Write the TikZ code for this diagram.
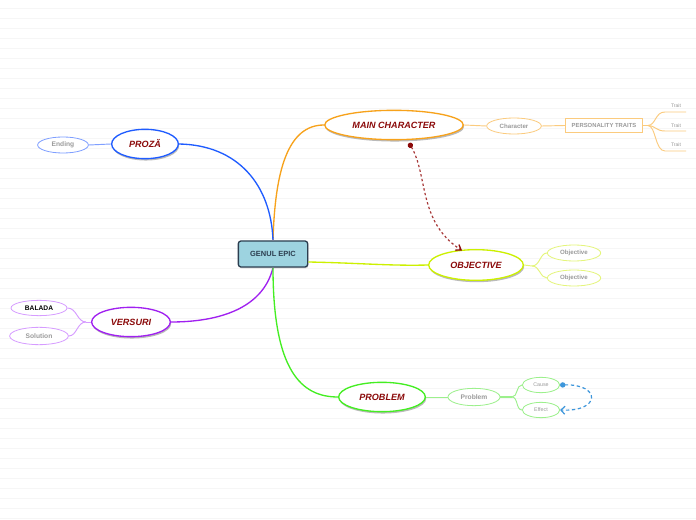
\documentclass[tikz,border=0pt]{standalone}
\usepackage{fontspec}
\setmainfont{Liberation Sans}
\usetikzlibrary{shapes.geometric,arrows.meta,shadows}
\definecolor{corange}{HTML}{F7A21B}
\definecolor{lorange}{HTML}{FBCB7E}
\definecolor{cblue}{HTML}{1F5CFF}
\definecolor{lblue}{HTML}{7F9FFF}
\definecolor{cpurple}{HTML}{A020F0}
\definecolor{lpurple}{HTML}{D69CFF}
\definecolor{cyell}{HTML}{CCF000}
\definecolor{lyell}{HTML}{E4F57A}
\definecolor{cgreen}{HTML}{44EE22}
\definecolor{lgreen}{HTML}{9CF08C}
\definecolor{dred}{HTML}{8B0A0A}
\definecolor{mred}{HTML}{A83A3A}
\definecolor{hubfill}{HTML}{9DD3E0}
\definecolor{hubline}{HTML}{2C3E50}
\definecolor{txtgray}{HTML}{9A9A9A}
\definecolor{dblue}{HTML}{3D96DB}
\tikzset{
  x=0.75pt, y=-0.75pt,
  mainnode/.style={ellipse, draw, fill=white, line width=1pt, inner sep=0pt,
    text=dred, font=\bfseries\itshape\fontsize{6.8}{8}\selectfont,
    drop shadow={shadow xshift=0.6pt, shadow yshift=-1.4pt, fill=black!45, opacity=0.6}},
  subnode/.style={ellipse, draw, fill=white, line width=0.6pt, inner sep=0pt,
    text=txtgray, font=\bfseries\fontsize{4.6}{5}\selectfont},
  leafnode/.style={ellipse, draw, fill=white, line width=0.6pt, inner sep=0pt,
    text=txtgray, font=\fontsize{4}{5}\selectfont},
  trait/.style={text=txtgray, font=\fontsize{3.8}{4}\selectfont, inner sep=0pt},
  branch/.style={line width=1pt},
  twig/.style={line width=0.7pt},
}
\begin{document}
\begin{tikzpicture}
\useasboundingbox (0,0) rectangle (696,520);
\fill[white] (0,0) rectangle (696,520);
\foreach \yy in {8,18,...,518} \draw[black!3.5, line width=0.6pt] (0,\yy) -- (696,\yy);

% hub
\node[rectangle, rounded corners=2pt, draw=hubline, fill=hubfill, line width=1pt,
  minimum width=52pt, minimum height=19.5pt, inner sep=0pt, text=hubline,
  font=\bfseries\fontsize{5.6}{6}\selectfont,
  drop shadow={shadow xshift=0.5pt, shadow yshift=-1pt, fill=black!30, opacity=0.5}] (g) at (273,254) {GENUL EPIC};

% main nodes
\node[mainnode, draw=corange, minimum width=104pt, minimum height=22pt] (mc) at (394,125) {MAIN CHARACTER};
\node[mainnode, draw=cyell, minimum width=71pt, minimum height=23pt] (ob) at (476,265) {OBJECTIVE};
\node[mainnode, draw=cgreen, minimum width=65pt, minimum height=22pt] (pb) at (382,397) {PROBLEM};
\node[mainnode, draw=cblue, minimum width=50pt, minimum height=22pt] (pr) at (145,144) {PROZĂ};
\node[mainnode, draw=cpurple, minimum width=59pt, minimum height=22pt] (vs) at (131,322) {VERSURI};

% sub nodes
\node[subnode, draw=lorange, minimum width=41pt, minimum height=12pt] (ch) at (514,126) {Character};
\node[rectangle, draw=lorange, fill=white, line width=0.7pt, minimum width=58pt, minimum height=10pt,
  inner sep=0pt, text=txtgray, font=\bfseries\fontsize{4.4}{5}\selectfont] (pt) at (604,125.5) {PERSONALITY TRAITS};
\node[subnode, draw=lyell, minimum width=40pt, minimum height=12pt] (o1) at (574,253) {Objective};
\node[subnode, draw=lyell, minimum width=40pt, minimum height=12pt] (o2) at (574,278) {Objective};
\node[subnode, draw=lgreen, minimum width=39pt, minimum height=13pt, font=\bfseries\fontsize{5}{6}\selectfont] (pb2) at (474,397) {Problem};
\node[leafnode, draw=lgreen, minimum width=28pt, minimum height=11.5pt] (ca) at (541,385) {Cause};
\node[leafnode, draw=lgreen, minimum width=28pt, minimum height=11.5pt] (ef) at (541,410) {Effect};
\node[subnode, draw=lblue, minimum width=38pt, minimum height=12pt, font=\bfseries\fontsize{5}{6}\selectfont] (en) at (63,145) {Ending};
\node[subnode, draw=lpurple, minimum width=42pt, minimum height=11.5pt, text=black, font=\bfseries\fontsize{5}{6}\selectfont] (ba) at (39,308) {BALADA};
\node[subnode, draw=lpurple, minimum width=44pt, minimum height=13pt, font=\bfseries\fontsize{5}{6}\selectfont] (so) at (39,336) {Solution};

% trait labels
\node[trait] (t1) at (676,106) {Trait};
\node[trait] (t2) at (676,126) {Trait};
\node[trait] (t3) at (676,145) {Trait};
\coordinate (t1e) at (686,112);
\coordinate (t2e) at (686,131);
\coordinate (t3e) at (686,151);

% main branches
\draw[branch, corange] (g.north) .. controls (275,170) and (288,125) .. (mc.west);
\draw[branch, cblue] (g.north) .. controls (271,185) and (238,145) .. (pr.east);
\draw[branch, cyell] (g.east |- 0,262) .. controls (360,263) and (390,266) .. (ob.west);
\draw[branch, cpurple] (g.south) .. controls (262,312) and (212,322) .. (vs.east);
\draw[branch, cgreen] (g.south) .. controls (273,372) and (302,397) .. (pb.west);

% sub branches
\draw[twig, lorange] (mc.east) -- (ch.west);
\draw[twig, lorange] (ch.east) -- (pt.west);
\coordinate (pj) at (648,125.5);
\draw[twig, lorange] (pt.east) -- (pj);
\draw[twig, lorange] (pj) .. controls (656,125) and (655,112) .. (665,112) -- (t1e);
\draw[twig, lorange] (pj) .. controls (656,126) and (656,131) .. (665,131) -- (t2e);
\draw[twig, lorange] (pj) .. controls (656,126) and (655,151) .. (665,151) -- (t3e);

\draw[twig, lblue] (pr.west) -- (en.east);

\coordinate (vj) at (86,322);
\draw[twig, lpurple] (vs.west) -- (vj);
\draw[twig, lpurple] (vj) .. controls (77,322) and (77,308) .. (ba.east);
\draw[twig, lpurple] (vj) .. controls (77,322) and (77,336) .. (so.east);

\coordinate (oj) at (532,266);
\draw[twig, lyell] (ob.east) -- (oj);
\draw[twig, lyell] (oj) .. controls (540,266) and (540,253) .. (o1.west);
\draw[twig, lyell] (oj) .. controls (540,266) and (540,278) .. (o2.west);

\draw[twig, lgreen] (pb.east) -- (pb2.west);
\coordinate (qj) at (512,397);
\draw[line width=1.2pt, lgreen] (pb2.east) -- (qj);
\draw[twig, lgreen] (qj) .. controls (518,397) and (516,385) .. (ca.west);
\draw[twig, lgreen] (qj) .. controls (518,397) and (516,410) .. (ef.west);

% relationship connectors
\coordinate (ms) at (409,143);
\coordinate (oe) at (462,250.5);
\draw[mred, line width=0.9pt, dash pattern=on 1.8pt off 1.8pt,
  {Circle[length=4pt, sep=0pt, fill=dred, color=dred]}-{Straight Barb[length=3.5pt, width=5pt, color=dred, line width=1pt]}]
  (ms) .. controls (428,175) and (418,222) .. (oe);
\draw[dblue, line width=0.9pt, dash pattern=on 2.5pt off 2pt, {Circle[length=4pt]}-{Straight Barb[length=3pt]}]
  (ca.east) .. controls (601,384) and (601,412) .. (ef.east);
\end{tikzpicture}
\end{document}
